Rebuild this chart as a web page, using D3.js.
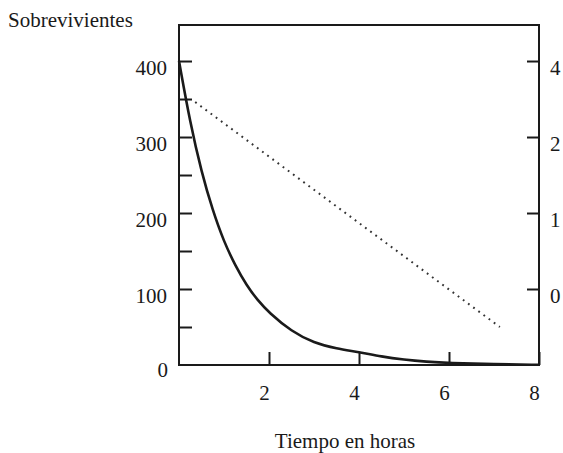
<!DOCTYPE html>
<html lang="es">
<head>
  <meta charset="UTF-8">
  <title>Sobrevivientes vs tiempo</title>
  <script src="https://d3js.org/d3.v7.min.js"></script>
  <style>
    body { margin: 0; background: #fff; }
    svg text { font-family: "Liberation Serif", "Times New Roman", serif; font-size: 21px; fill: #1a1a1a; }
    .axis line { stroke: #1a1a1a; stroke-width: 2px; }
    .axis path { display: none; }
  </style>
</head>
<body>
  <svg id="chart" width="563" height="453"></svg>
  <script>
    // survivors (hours, count)
    const hours = [0, 0.25, 0.5, 0.75, 1, 1.25, 1.5, 1.75, 2, 2.5, 3, 3.5, 4, 4.5, 5, 5.5, 6, 7, 8];
    const survivors = [400, 318, 254, 203, 162, 131, 105, 85, 69, 44, 29, 21.5, 17, 11, 7, 4.3, 2.5, 1, 0.3];

    // dotted line, right-hand scale
    const dottedHours = [0.36, 7.13];
    const dottedValues = [2.46, -0.5];

    const leftTicks = [50, 100, 150, 200, 250, 300, 350, 400];
    const rightTicks = [0, 1, 2, 3];
    const rightTickLabels = ["0", "1", "2", "4"];
    const bottomTicks = [2, 4, 6, 8];

    const svg = d3.select("#chart");
    const plotL = 179, plotR = 539, plotT = 25, plotB = 365;

    const x = d3.scaleLinear().domain([0, 8]).range([plotL, plotR]);
    const y = d3.scaleLinear().domain([0, 447.4]).range([plotB, plotT]);
    const yR = d3.scaleLinear().domain([-1, 3.474]).range([plotB, plotT]);

    // frame
    svg.append("rect")
       .attr("x", plotL).attr("y", plotT)
       .attr("width", plotR - plotL).attr("height", plotB - plotT)
       .attr("fill", "none").attr("stroke", "#1a1a1a").attr("stroke-width", 2);

    // left axis, ticks point inward
    const gl = svg.append("g").attr("class", "axis")
      .attr("transform", `translate(${plotL},0)`)
      .call(d3.axisLeft(y).tickValues(leftTicks).tickSizeInner(-13).tickSizeOuter(0).tickPadding(12)
        .tickFormat(d => d % 100 === 0 ? d : ""));
    gl.selectAll("text").attr("dy", "0.66em");

    // zero label on left
    svg.append("text")
       .attr("x", plotL - 11).attr("y", y(0)).attr("dy", "0.58em")
       .attr("text-anchor", "end").text("0");

    // right axis
    const gr = svg.append("g").attr("class", "axis")
      .attr("transform", `translate(${plotR},0)`)
      .call(d3.axisRight(yR).tickValues(rightTicks).tickSizeInner(-12).tickSizeOuter(0).tickPadding(11)
        .tickFormat((d, i) => rightTickLabels[i]));
    gr.selectAll("text").attr("dy", "0.66em");

    // bottom axis
    const gb = svg.append("g").attr("class", "axis")
      .attr("transform", `translate(0,${plotB})`)
      .call(d3.axisBottom(x).tickValues(bottomTicks).tickSizeInner(-13).tickSizeOuter(0).tickPadding(20));
    gb.selectAll("text").attr("dx", -5);

    // curves
    const solid = d3.line()
      .x((d, i) => x(hours[i]))
      .y(d => y(d))
      .curve(d3.curveBasis);
    svg.append("path")
       .attr("d", solid(survivors))
       .attr("fill", "none").attr("stroke", "#1a1a1a").attr("stroke-width", 2.6);

    const dotted = d3.line()
      .x((d, i) => x(dottedHours[i]))
      .y(d => yR(d));
    svg.append("path")
       .attr("d", dotted(dottedValues))
       .attr("fill", "none").attr("stroke", "#333").attr("stroke-width", 2)
       .attr("stroke-dasharray", "1.8,4.6");

    // titles
    svg.append("text").attr("x", 8).attr("y", 27).text("Sobrevivientes");
    svg.append("text").attr("x", 345).attr("y", 448).attr("text-anchor", "middle").text("Tiempo en horas");
  </script>
</body>
</html>
